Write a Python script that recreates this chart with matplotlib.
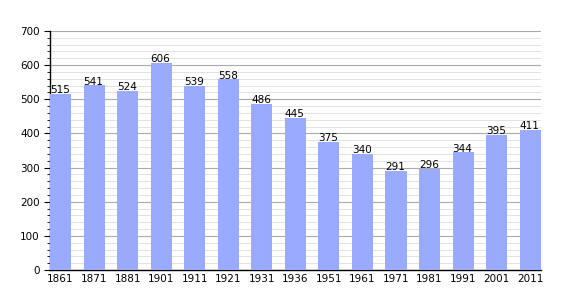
import matplotlib.pyplot as plt
from matplotlib.ticker import MultipleLocator

years = ['1861', '1871', '1881', '1901', '1911', '1921', '1931', '1936',
         '1951', '1961', '1971', '1981', '1991', '2001', '2011']
population = [515, 541, 524, 606, 539, 558, 486, 445, 375, 340, 291, 296, 344, 395, 411]

bar_w = 0.63

fig = plt.figure(figsize=(5.7, 3.0), dpi=100)
ax = fig.add_axes([0.0877, 0.1, 0.861, 0.797])

x = range(len(years))
ax.bar(x, population, width=bar_w, color='#99aaff', zorder=3)
for i, v in enumerate(population):
    ax.text(i - bar_w / 2, v + 2, str(v), ha='left', va='baseline', fontsize=7.5,
            color='black', zorder=4)

ax.set_xlim(-bar_w / 2, len(years) - 1 + bar_w / 2)
ax.set_ylim(0, 700)
ax.yaxis.set_major_locator(MultipleLocator(100))
ax.yaxis.set_minor_locator(MultipleLocator(20))
ax.grid(which='major', axis='y', color='#aaaaaa', linewidth=0.8, zorder=1)
ax.grid(which='minor', axis='y', color='#dddddd', linewidth=0.6, zorder=1)

ax.set_xticks(list(x))
ax.set_xticklabels(years)
ax.tick_params(axis='x', length=0, labelsize=7.5, pad=3)
ax.tick_params(axis='y', which='major', length=4, labelsize=7.5, direction='out')
ax.tick_params(axis='y', which='minor', length=2, direction='out')

for s in ['top', 'right']:
    ax.spines[s].set_visible(False)
ax.spines['left'].set_linewidth(1)
ax.spines['bottom'].set_linewidth(1)

fig.savefig('out.png', dpi=100)
